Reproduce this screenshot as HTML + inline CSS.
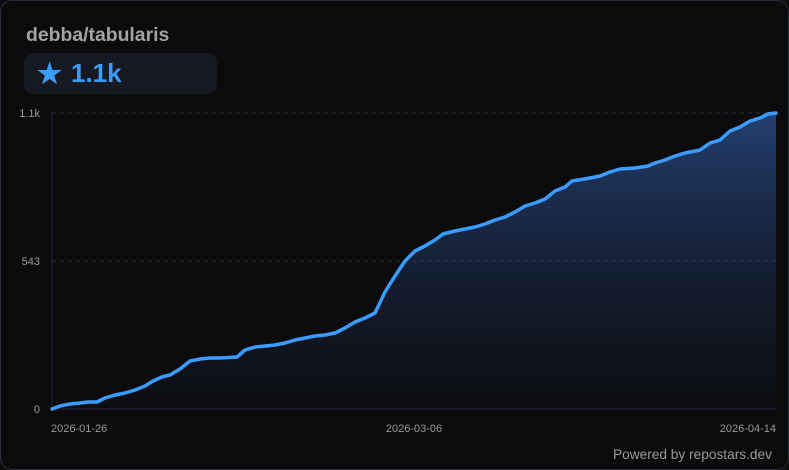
<!DOCTYPE html>
<html><head><meta charset="utf-8"><style>
html,body{margin:0;padding:0;background:#0b0b0c;}
.card{position:absolute;left:0;top:0;width:787px;height:468px;border:1px solid #2a2d3e;border-radius:12px;background:#0b0b0c;overflow:hidden;font-family:"Liberation Sans",sans-serif;}
.t{position:absolute;left:25px;top:23px;font-size:19.4px;font-weight:bold;color:#a3a3a3;}
.b{position:absolute;left:23px;top:52px;width:193px;height:41px;border-radius:9px;background:#161822;}
.s{position:absolute;left:13px;top:4px;font-size:28px;color:#3b9cff;font-weight:bold;}
.n{position:absolute;left:47px;top:5px;font-size:26px;color:#3b9cff;font-weight:bold;}
</style></head><body><div class="card">
<div class="t">debba/tabularis</div>
<div class="b"><span class="s">★</span><span class="n">1.1k</span></div>
<svg width="789" height="470" style="position:absolute;left:-1px;top:-1px">
<defs><linearGradient id="g" x1="0" y1="0" x2="0" y2="1"><stop offset="0" stop-color="#2a4c8a" stop-opacity="0.8"/><stop offset="1" stop-color="#1a2a4a" stop-opacity="0.1"/></linearGradient></defs>
<line x1="52" y1="113" x2="776" y2="113" stroke="#2a2d48" stroke-dasharray="4,4"/>
<line x1="52" y1="261" x2="776" y2="261" stroke="#2a2d48" stroke-dasharray="4,4"/>
<line x1="52" y1="409" x2="776" y2="409" stroke="#23253a"/>
<line x1="52" y1="113" x2="52" y2="409" stroke="#23253a"/>
<g font-family="Liberation Sans,sans-serif" font-size="11" fill="#9a9a9a">
<text x="40" y="117" text-anchor="end">1.1k</text>
<text x="40" y="265" text-anchor="end">543</text>
<text x="40" y="413" text-anchor="end">0</text>
<text x="51" y="432">2026-01-26</text>
<text x="414" y="432" text-anchor="middle">2026-03-06</text>
<text x="776" y="432" text-anchor="end">2026-04-14</text>
<text x="772" y="459" text-anchor="end" font-size="13.7">Powered by repostars.dev</text>
</g>
<path d="M52,409 L60,406 70,404 80,403 88,402 97,402 105,398 115,395 125,393 135,390 145,386 153,381 162,377 170,375 180,369 190,361 200,359 210,358 220,358 237,357 245,350 255,347 265,346 275,345 285,343 295,340 305,338 315,336 325,335 335,333 345,328 355,322 365,318 375,313 385,292 395,276 405,261 415,251 425,246 435,240 443,234 455,231 465,229 475,227 485,224 495,220 505,217 515,212 525,206 535,203 545,199 555,191 565,187 572,181 590,178 600,176 610,172 620,169 635,168 648,166 655,163 665,160 675,156 685,153 700,150 710,143 720,140 730,131 740,127 750,121 760,118 768,114 776,113 L776,409 L52,409 Z" fill="url(#g)"/>
<polyline fill="none" stroke="#3b9cff" stroke-width="3.5" stroke-linejoin="round" stroke-linecap="round" points="52,409 60,406 70,404 80,403 88,402 97,402 105,398 115,395 125,393 135,390 145,386 153,381 162,377 170,375 180,369 190,361 200,359 210,358 220,358 237,357 245,350 255,347 265,346 275,345 285,343 295,340 305,338 315,336 325,335 335,333 345,328 355,322 365,318 375,313 385,292 395,276 405,261 415,251 425,246 435,240 443,234 455,231 465,229 475,227 485,224 495,220 505,217 515,212 525,206 535,203 545,199 555,191 565,187 572,181 590,178 600,176 610,172 620,169 635,168 648,166 655,163 665,160 675,156 685,153 700,150 710,143 720,140 730,131 740,127 750,121 760,118 768,114 776,113"/>
</svg>
</div></body></html>
